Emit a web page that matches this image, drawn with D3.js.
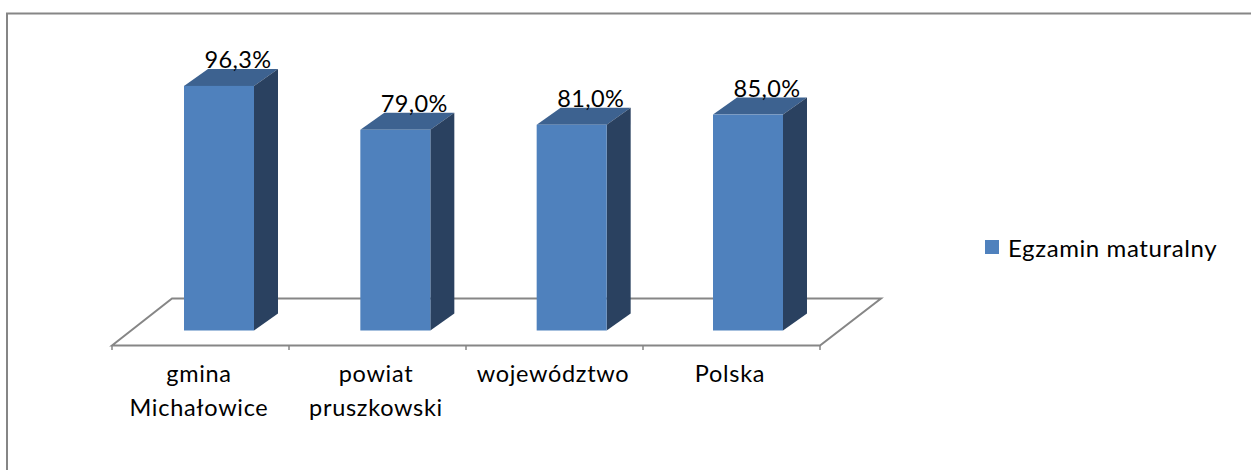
<!DOCTYPE html>
<html><head><meta charset="utf-8">
<script src="https://cdn.jsdelivr.net/npm/d3@7"></script>
<style>html,body{margin:0;padding:0;background:#fff}svg{display:block}
text{font-family:Lato,"Open Sans",sans-serif;fill:#000}</style></head>
<body><svg id="c" width="1251" height="470"></svg>
<script>
const categories = [["gmina","Michałowice"],["powiat","pruszkowski"],["województwo"],["Polska"]];
const seriesName = "Egzamin maturalny";
const values = [96.3,79.0,81.0,85.0];
const labels = ["96,3%","79,0%","81,0%","85,0%"];

const svg = d3.select("#c");
svg.append("path").attr("fill","none").attr("stroke","#868686").attr("stroke-width",2)
  .attr("d","M7,470V13.5H1251");

const x = d3.scaleBand().domain(d3.range(4)).range([112,820]);
const xBar = d3.scalePoint().domain(d3.range(4)).range([184,713]);
const y = d3.scaleLinear().domain([0,100]).range([330.5,76.5]);
const barW = 70, dx = 24, dy = -17;
const floorF = 345.5, floorB = 298.5;
svg.append("path").attr("fill","none").attr("stroke","#868686").attr("stroke-width",2)
  .attr("d",`M112,${floorF}L172,${floorB}L881,${floorB}L820,${floorF}Z`);
const tick = d3.scaleLinear().domain([0,4]).range([112,820]);
svg.selectAll(".t").data(d3.range(5)).join("line").attr("x1",d=>tick(d)).attr("x2",d=>tick(d))
  .attr("y1",floorF).attr("y2",350).attr("stroke","#868686").attr("stroke-width",1.5);

const left = i => xBar(i);
const g = svg.selectAll(".b").data(values).join("g");
g.append("path").attr("fill","#3d6290").attr("d",(d,i)=>{const l=left(i),r=l+barW,t=y(d);
  return `M${l},${t}L${l+dx},${t+dy}L${r+dx},${t+dy}L${r},${t}Z`;});
g.append("path").attr("fill","#2a4160").attr("d",(d,i)=>{const r=left(i)+barW,t=y(d),b=y(0);
  return `M${r},${t}L${r+dx},${t+dy}L${r+dx},${b+dy}L${r},${b}Z`;});
g.append("rect").attr("fill","#4f81bd").attr("x",(d,i)=>left(i)).attr("y",d=>y(d))
  .attr("width",barW).attr("height",d=>y(0)-y(d));
g.append("text").attr("x",(d,i)=>left(i)+barW/2+19).attr("y",d=>y(d)-18)
  .attr("text-anchor","middle").style("font-size","23.5px").style("letter-spacing","0.4px").text((d,i)=>labels[i]);

const lab = svg.selectAll(".c").data(categories).join("text").attr("text-anchor","middle")
  .style("font-size","23.5px").style("letter-spacing","0.7px");
lab.each(function(d,i){
  d3.select(this).selectAll("tspan").data(d).join("tspan")
   .attr("x",x(i)+x.bandwidth()/2-1.5).attr("y",(t,j)=>381.5+j*34.5).text(t=>t);
});
svg.append("rect").attr("x",985).attr("y",240).attr("width",14).attr("height",14).attr("fill","#4f81bd");
svg.append("text").attr("x",1008).attr("y",257).style("font-size","24px").style("letter-spacing","0.6px").text(seriesName);
</script></body></html>
